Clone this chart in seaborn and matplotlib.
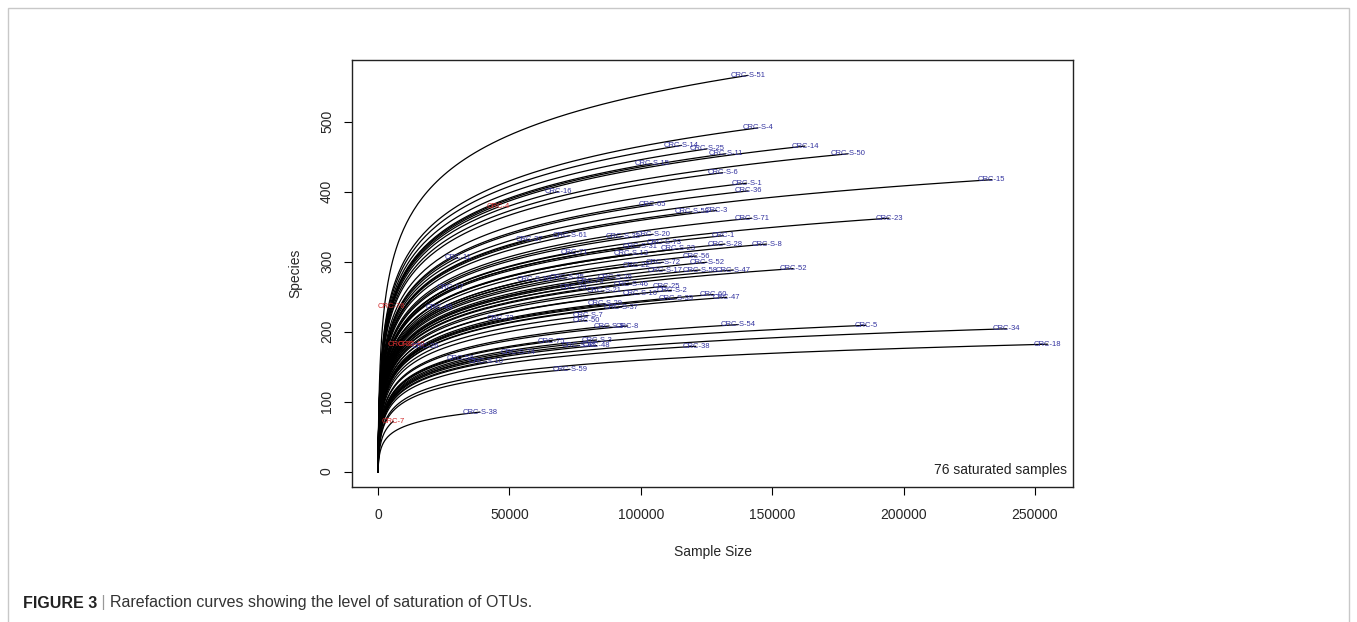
import numpy as np
import pandas as pd
import matplotlib
matplotlib.use("Agg")
import matplotlib.pyplot as plt
import matplotlib.patches as patches
import seaborn as sns

# end points of every rarefaction curve (sample size, species)
samples = [
    "CRC-S-51", "CRC-S-4", "CRC-S-14", "CRC-S-25", "CRC-S-11", "CRC-S-15", "CRC-S-6",
    "CRC-S-1", "CRC-36", "CRC-65", "CRC-S-53", "CRC-3", "CRC-S-71", "CRC-14",
    "CRC-S-50", "CRC-15", "CRC-23", "CRC-16", "CRC-4", "CRC-37", "CRC-S-61",
    "CRC-S-32", "CRC-S-20", "CRC-1", "CRC-S-73", "CRC-S-28", "CRC-S-8", "CRC-71",
    "CRC-S-31", "CRC-S-23", "CRC-S-13", "CRC-56", "CRC-S-72", "CRC-22", "CRC-S-52",
    "CRC-S-17", "CRC-S-58", "CRC-S-47", "CRC-52", "CRC-S-46", "CRC-S-26", "CRC-29",
    "CRC-73", "CRC-25", "CRC-S-16", "CRC-S-2", "CRC-S-39", "CRC-60", "CRC-47",
    "CRC-S-37", "CRC-S-29", "CRC-S-7", "CRC-50", "CRC-S-9", "CRC-8", "CRC-S-54",
    "CRC-S-3", "CRC-S-45", "CRC-48", "CRC-38", "CRC-5", "CRC-34", "CRC-18",
    "CRC-S-59", "CRC-S-38", "CRC-7", "CRC-75", "CRC-S-74", "CRC-54", "CRC-S-10",
    "CRC-11", "CRC-S-36", "CRC-17", "CRC-76", "CRC-46", "CRC-72", "CRC-30",
    "CRC-40", "CRC-26", "CRC-S-35", "CRC-S-21",
]
sizes = [
    140800, 144600, 115500, 125200, 132300, 104200, 131200,
    140300, 140900, 104400, 119400, 128900, 142200, 162500,
    178900, 233600, 194500, 68600, 45800, 57600, 73000,
    93300, 104700, 131400, 108900, 132000, 147900, 74900,
    99700, 114200, 96500, 121200, 108600, 98400, 125100,
    109200, 122500, 135200, 158000, 96500, 90200, 74300,
    80700, 109800, 99700, 111700, 113600, 127600, 132700,
    92700, 86400, 80000, 79400, 88000, 95000, 137100,
    83200, 76700, 83200, 121000, 185700, 239200, 254800,
    73000, 38800, 5800, 66100, 53400, 31500, 41300,
    30300, 59300, 27400, 5200, 23300, 46700, 9000,
    12500, 18200, 71800, 86000,
]
species = [
    566, 491, 466, 461, 454, 440, 427,
    412, 401, 381, 371, 373, 362, 465,
    454, 417, 362, 400, 378, 332, 337,
    336, 339, 337, 328, 325, 325, 313,
    321, 318, 311, 308, 299, 295, 299,
    288, 288, 288, 290, 268, 277, 263,
    272, 265, 254, 259, 247, 253, 249,
    235, 240, 223, 216, 208, 208, 210,
    188, 180, 180, 179, 209, 204, 182,
    146, 85, 72, 186, 170, 162, 157,
    306, 275, 263, 236, 235, 219, 181,
    181, 179, 277, 258,
]
# samples that did not reach saturation, labelled in red
unsaturated = ["CRC-4", "CRC-7", "CRC-76", "CRC-30", "CRC-40"]

x_ticks = [0, 50000, 100000, 150000, 200000, 250000]
y_ticks = [0, 100, 200, 300, 400, 500]

SHAPE_K = 150  # curvature of the rarefaction curves

rows = []
for name, n_end, s_end in zip(samples, sizes, species):
    n = np.concatenate([[0], np.geomspace(20, n_end, 160)])
    s = s_end * np.log1p(n / SHAPE_K) / np.log1p(n_end / SHAPE_K)
    rows.append(pd.DataFrame({"sample": name, "n": n, "S": s}))
df = pd.concat(rows, ignore_index=True)

sns.set_style("ticks")
plt.rcParams["font.family"] = ["Liberation Sans", "DejaVu Sans"]

fig = plt.figure(figsize=(13.57, 6.22), dpi=100)
ax = fig.add_axes([352 / 1357, 1 - 487 / 622, 721 / 1357, 427 / 622])

sns.lineplot(data=df, x="n", y="S", units="sample", estimator=None,
             color="black", lw=0.9, legend=False, ax=ax, sort=False)

for name, n_end, s_end in zip(samples, sizes, species):
    col = "#d22b2b" if name in unsaturated else "#33339f"
    ax.text(n_end, s_end, name, fontsize=5.5, color=col,
            ha="center", va="center", zorder=5)

ax.set_xlim(-9900, 264500)
ax.set_ylim(-22, 588)
ax.set_xticks(x_ticks)
ax.set_yticks(y_ticks)
ax.set_xticklabels([str(v) for v in x_ticks])
ax.set_yticklabels([str(v) for v in y_ticks], rotation=90, va="center")
ax.tick_params(direction="out", length=6, width=0.8, labelsize=10, color="black")
ax.tick_params(axis="x", pad=9)
ax.tick_params(axis="y", pad=7)
for sp in ax.spines.values():
    sp.set_visible(True)
    sp.set_linewidth(1.0)
    sp.set_color("#222222")

ax.set_xlabel("Sample Size", fontsize=10)
ax.set_ylabel("Species", fontsize=10)
ax.xaxis.set_label_coords(0.5, -0.152)
ax.xaxis.label.set_va("center")
ax.yaxis.set_label_coords(-0.079, 0.5)
ax.yaxis.label.set_va("center")

ax.text(0.992, 0.04, "76 saturated samples", transform=ax.transAxes,
        ha="right", va="center", fontsize=10, color="#222222")

# outer frame of the figure panel and the caption
frame = patches.Rectangle((8 / 1357, -0.05), 1341 / 1357, 1 - 8 / 622 + 0.05,
                          transform=fig.transFigure, fill=False,
                          edgecolor="#c8c8c8", lw=1.0)
fig.patches.append(frame)
cap = fig.text(23 / 1357, 1 - 603 / 622, "FIGURE 3", fontsize=11.5,
               fontweight="bold", va="center", ha="left", color="#222222")
bar = ax.annotate(" | ", xy=(1, 0.5), xycoords=cap, fontsize=11.5,
                  va="center", ha="left", color="#999999", annotation_clip=False)
ax.annotate("Rarefaction curves showing the level of saturation of OTUs.",
            xy=(1, 0.5), xycoords=bar, fontsize=11.5, va="center", ha="left",
            color="#333333", annotation_clip=False)

fig.savefig("out.png", dpi=100)
